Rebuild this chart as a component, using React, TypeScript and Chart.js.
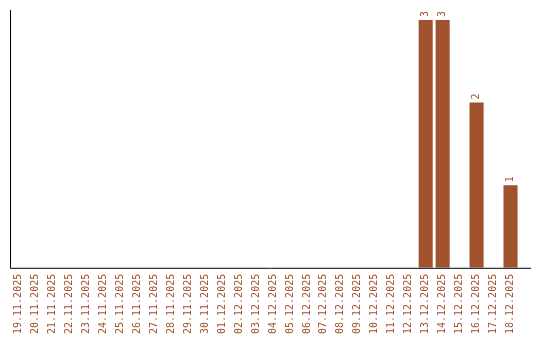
import React, { useEffect, useRef } from "react";
import { Chart, registerables } from "chart.js";

Chart.register(...registerables);

const categories: string[] = [
  "19.11.2025", "20.11.2025", "21.11.2025", "22.11.2025", "23.11.2025",
  "24.11.2025", "25.11.2025", "26.11.2025", "27.11.2025", "28.11.2025",
  "29.11.2025", "30.11.2025", "01.12.2025", "02.12.2025", "03.12.2025",
  "04.12.2025", "05.12.2025", "06.12.2025", "07.12.2025", "08.12.2025",
  "09.12.2025", "10.12.2025", "11.12.2025", "12.12.2025", "13.12.2025",
  "14.12.2025", "15.12.2025", "16.12.2025", "17.12.2025", "18.12.2025",
];

const values: (number | null)[] = [
  null, null, null, null, null,
  null, null, null, null, null,
  null, null, null, null, null,
  null, null, null, null, null,
  null, null, null, null, 3,
  3, null, 2, null, 1,
];

const COLOR = "#a0522d";
const FONT = "'DejaVu Sans Mono', monospace";

const valueLabels = {
  id: "valueLabels",
  afterDatasetsDraw(chart: any) {
    const ctx = chart.ctx;
    const meta = chart.getDatasetMeta(0);
    ctx.save();
    ctx.fillStyle = COLOR;
    ctx.font = `10px ${FONT}`;
    ctx.textAlign = "left";
    ctx.textBaseline = "middle";
    meta.data.forEach((bar: any, i: number) => {
      const v = values[i];
      if (v === null || v === undefined) return;
      ctx.save();
      ctx.translate(bar.x, bar.y - 3);
      ctx.rotate(-Math.PI / 2);
      ctx.fillText(String(v), 0, 0);
      ctx.restore();
    });
    ctx.restore();
  },
};

const axisLines = {
  id: "axisLines",
  afterDraw(chart: any) {
    const { ctx, chartArea } = chart;
    ctx.save();
    ctx.strokeStyle = "#000";
    ctx.lineWidth = 1;
    ctx.beginPath();
    ctx.moveTo(chartArea.left + 0.5, chartArea.top);
    ctx.lineTo(chartArea.left + 0.5, chartArea.bottom);
    ctx.moveTo(chartArea.left, chartArea.bottom + 0.5);
    ctx.lineTo(chartArea.right + 12, chartArea.bottom + 0.5);
    ctx.stroke();
    ctx.restore();
  },
};

export default function App() {
  const ref = useRef<HTMLCanvasElement | null>(null);
  useEffect(() => {
    if (!ref.current) return;
    const chart = new Chart(ref.current, {
      type: "bar",
      data: {
        labels: categories,
        datasets: [
          {
            data: values,
            backgroundColor: COLOR,
            borderWidth: 0,
            categoryPercentage: 1,
            barPercentage: 0.83,
          },
        ],
      },
      options: {
        animation: false,
        responsive: false,
        maintainAspectRatio: false,
        layout: { padding: { left: 10, right: 21, top: 10, bottom: 0 } },
        plugins: {
          legend: { display: false },
          tooltip: { enabled: false },
        },
        scales: {
          x: {
            grid: { display: false, drawTicks: false },
            border: { display: false },
            ticks: {
              autoSkip: false,
              maxRotation: 90,
              minRotation: 90,
              padding: 6,
              color: COLOR,
              font: { family: FONT, size: 10 },
            },
          },
          y: {
            min: 0,
            max: 3.12,
            display: true,
            grid: { display: false, drawTicks: false },
            border: { display: false },
            ticks: { display: false },
          },
        },
      },
      plugins: [valueLabels, axisLines],
    });
    return () => chart.destroy();
  }, []);
  return (
    <div style={{ position: "absolute", left: 0, top: 0, width: 540, height: 340 }}>
      <canvas ref={ref} width={540} height={340} style={{ width: 540, height: 340 }} />
    </div>
  );
}
